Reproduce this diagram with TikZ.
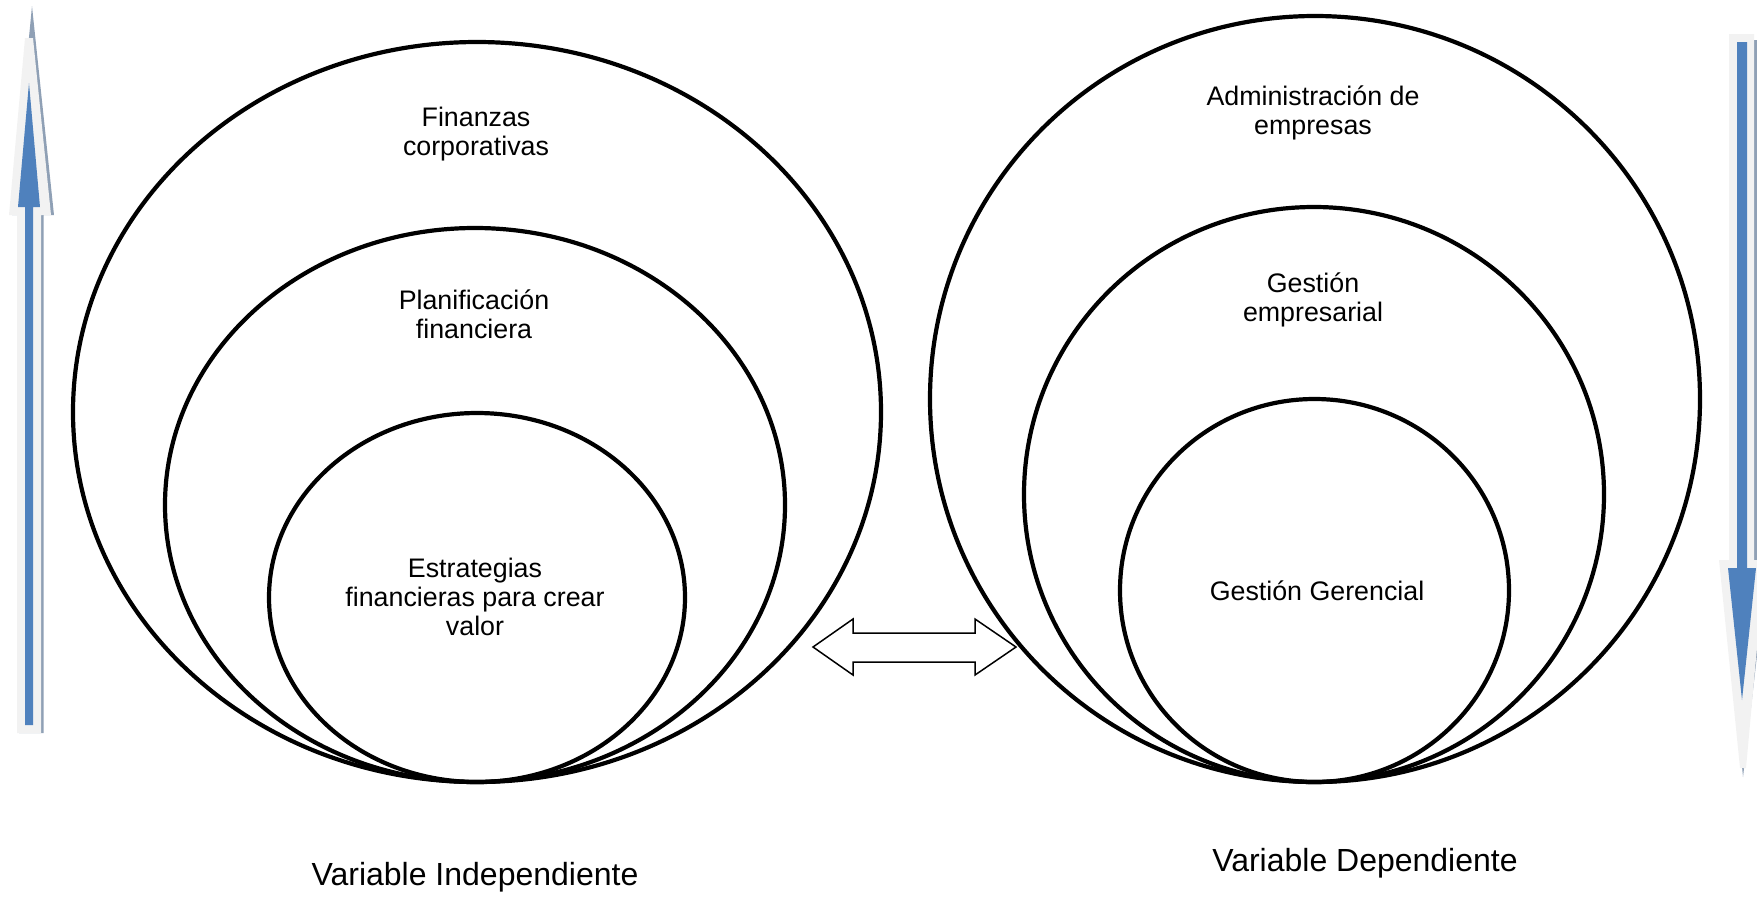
\documentclass[tikz,border=0pt]{standalone}
\usepackage{fontspec}
\setmainfont{Liberation Sans}
\definecolor{arrowblue}{HTML}{4F81BD}
\definecolor{glowgray}{HTML}{F2F2F2}
\definecolor{shadegray}{HTML}{8FA0B5}
\begin{document}
\begin{tikzpicture}[x=1pt,y=-1pt,
  ring/.style={draw=black,line width=4.2pt},
  ringlabel/.style={align=center,inner sep=0pt,font=\fontsize{26.8}{29}\selectfont},
  varlabel/.style={inner sep=0pt,font=\fontsize{32}{35}\selectfont},
  blockarrow/.style={draw=black,line width=1.5pt,fill=white,line join=miter}]
\useasboundingbox (0,0) rectangle (1757,898);

% left set of nested rings
\draw[ring] (477,412) ellipse [x radius=404pt, y radius=370pt];
\draw[ring] (475,505) ellipse [x radius=310pt, y radius=277pt];
\draw[ring] (477,597.5) ellipse [x radius=208pt, y radius=184.5pt];

% right set of nested rings
\draw[ring] (1315,399) ellipse [x radius=385pt, y radius=383pt];
\draw[ring] (1314,494.5) ellipse [x radius=290pt, y radius=287.5pt];
\draw[ring] (1314.5,590.5) ellipse [x radius=194.5pt, y radius=191.5pt];

% ring labels
\node[ringlabel] (fin) at (476,134) {Finanzas\\corporativas};
\node[ringlabel] (plan) at (474,314) {Planificación\\financiera};
\node[ringlabel] (estr) at (475,597) {Estrategias\\financieras para crear\\valor};
\node[ringlabel] (adm) at (1313,113) {Administración de\\empresas};
\node[ringlabel] (gest) at (1313,300) {Gestión\\empresarial};
\node[ringlabel] (ger) at (1317,591) {Gestión Gerencial};

% variable captions
\node[varlabel] (vi) at (475,877) {Variable Independiente};
\node[varlabel] (vd) at (1365,863) {Variable Dependiente};

% double block arrow between the two sets
\draw[blockarrow] (813,647) -- (853,619) -- (853,633) -- (975,633) -- (975,619)
  -- (1016,647) -- (975,675) -- (975,662) -- (853,662) -- (853,675) -- cycle;

% upward arrow on the left edge
\fill[shadegray] (32,6) -- (54,215) -- (43.5,215) -- (43.5,733) -- (19,733)
  -- (19,215) -- (12,215) -- cycle;
\fill[glowgray] (25,38) -- (33,38) -- (51,215) -- (41,215) -- (41,733) -- (17,733)
  -- (17,215) -- (9,215) -- cycle;
\fill[arrowblue] (29,83) -- (40,207) -- (33,207) -- (33,725) -- (25,725)
  -- (25,207) -- (18,207) -- cycle;

% downward arrow on the right edge
\fill[shadegray] (1731,40) -- (1757,40) -- (1757,560) -- (1768,560) -- (1743,777)
  -- (1722,560) -- (1731,560) -- cycle;
\fill[glowgray] (1729,34) -- (1754,34) -- (1754,560) -- (1765,560) -- (1746,768)
  -- (1740,768) -- (1719,560) -- (1729,560) -- cycle;
\fill[arrowblue] (1737,42) -- (1747,42) -- (1747,568) -- (1756,568) -- (1742,700)
  -- (1728,568) -- (1737,568) -- cycle;
\end{tikzpicture}
\end{document}
